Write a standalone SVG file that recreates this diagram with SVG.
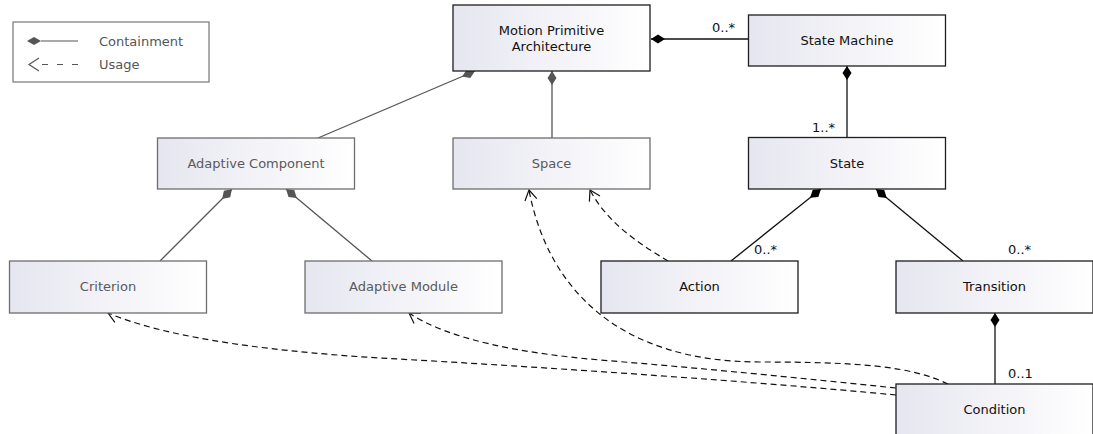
<svg xmlns="http://www.w3.org/2000/svg" width="1093" height="434" viewBox="0 0 1093 434">
<style>
  .node-b rect { fill: url(#grad); stroke: #1e1e1e; stroke-width: 1.3; }
  .node-g rect { fill: url(#grad); stroke: #6e6e6e; stroke-width: 1.3; }
  .node-b text { font-family: "DejaVu Sans", Verdana, sans-serif; font-size: 13px; fill: #111; text-anchor: middle; }
  .node-g text { font-family: "DejaVu Sans", Verdana, sans-serif; font-size: 13px; fill: #5a5a5a; text-anchor: middle; }
  .cb { fill: none; stroke: #111; stroke-width: 1.3; marker-start: url(#dia-b); }
  .cg { fill: none; stroke: #555; stroke-width: 1.3; marker-start: url(#dia-g); }
  .use { fill: none; stroke: #111; stroke-width: 1.2; stroke-dasharray: 6,4; marker-end: url(#open); }
  .lbl { font-family: "DejaVu Sans", Verdana, sans-serif; font-size: 13px; fill: #111; }
  .leg text { font-family: "DejaVu Sans", Verdana, sans-serif; font-size: 13px; fill: #555; }
</style>
<defs>
  <linearGradient id="grad" x1="0" y1="0" x2="1" y2="0">
    <stop offset="0" stop-color="#e6e6f0"/>
    <stop offset="1" stop-color="#ffffff"/>
  </linearGradient>
  <marker id="dia-b" markerUnits="userSpaceOnUse" markerWidth="16" markerHeight="12" refX="0" refY="5" orient="auto" viewBox="0 0 16 10" overflow="visible">
    <path d="M0,5 L7,0.5 L14,5 L7,9.5 Z" fill="#000"/>
  </marker>
  <marker id="dia-g" markerUnits="userSpaceOnUse" markerWidth="16" markerHeight="12" refX="0" refY="5" orient="auto" viewBox="0 0 16 10" overflow="visible">
    <path d="M0,5 L7,0.5 L14,5 L7,9.5 Z" fill="#555"/>
  </marker>
  <marker id="open" markerUnits="userSpaceOnUse" markerWidth="14" markerHeight="14" refX="12" refY="7" orient="auto" viewBox="0 0 14 14" overflow="visible">
    <path d="M2,1 L12,7 L2,13" fill="none" stroke="#111" stroke-width="1.2"/>
  </marker>
</defs>
<rect width="1093" height="434" fill="#fff"/>

<g id="legend" class="leg">
  <rect x="13" y="22" width="196" height="60" fill="#fff" stroke="#777" stroke-width="1.2"/>
  <path d="M27,41 L34,37 L41,41 L34,45 Z" fill="#555"/>
  <line x1="41" y1="41" x2="78" y2="41" stroke="#555" stroke-width="1.2"/>
  <text x="99" y="45.5">Containment</text>
  <path d="M39,58 L29,64.5 L39,71" fill="none" stroke="#555" stroke-width="1.2"/>
  <line x1="30" y1="64.5" x2="78" y2="64.5" stroke="#555" stroke-width="1.2" stroke-dasharray="0,12,6,9,6,9,6"/>
  <text x="99" y="69">Usage</text>
</g>

<g id="connectors">
  <path class="cb" d="M651,39 L748,39"/>
  <path class="cg" d="M475,71 L318,138"/>
  <path class="cg" d="M552,71 L552,138"/>
  <path class="cb" d="M847,66 L847,137"/>
  <path class="cg" d="M232,189 L160,261"/>
  <path class="cg" d="M286,189 L372,261"/>
  <path class="cb" d="M821,189 L731,261"/>
  <path class="cb" d="M876,189 L963,261"/>
  <path class="cb" d="M995,313 L995,384"/>
  <path class="use" d="M668,261 C 640,244 608,224 590,190"/>
  <path class="use" d="M948,384 C 910,366 860,362 760,362 C 620,362 548,290 529,190"/>
  <path class="use" d="M896,388 C 800,378 700,368 600,360 C 520,353 450,340 409,313"/>
  <path class="use" d="M896,395 C 760,382 560,368 380,358 C 250,350 160,335 108,313"/>
  <text class="lbl" x="712" y="32">0..*</text>
  <text class="lbl" x="812" y="132">1..*</text>
  <text class="lbl" x="754" y="254">0..*</text>
  <text class="lbl" x="1008" y="254">0..*</text>
  <text class="lbl" x="1008" y="378">0..1</text>
</g>

<g id="node-mpa" class="node-b">
  <rect x="453" y="5" width="197" height="66"/>
  <text x="551.5" y="34.5">Motion Primitive</text>
  <text x="551.5" y="50.5">Architecture</text>
</g>
<g id="node-state-machine" class="node-b">
  <rect x="748.5" y="15" width="197" height="51"/>
  <text x="847" y="45">State Machine</text>
</g>
<g id="node-state" class="node-b">
  <rect x="748.5" y="137.5" width="197" height="51.5"/>
  <text x="847" y="168">State</text>
</g>
<g id="node-adaptive-component" class="node-g">
  <rect x="157.5" y="138" width="197" height="51"/>
  <text x="256" y="168">Adaptive Component</text>
</g>
<g id="node-space" class="node-g">
  <rect x="453" y="138" width="197" height="51"/>
  <text x="551.5" y="168">Space</text>
</g>
<g id="node-criterion" class="node-g">
  <rect x="9.5" y="261" width="197" height="52"/>
  <text x="108" y="291">Criterion</text>
</g>
<g id="node-adaptive-module" class="node-g">
  <rect x="305" y="261" width="197" height="52"/>
  <text x="403.5" y="291">Adaptive Module</text>
</g>
<g id="node-action" class="node-b">
  <rect x="601" y="261" width="197" height="52"/>
  <text x="699.5" y="291">Action</text>
</g>
<g id="node-transition" class="node-b">
  <rect x="896" y="261" width="197" height="52"/>
  <text x="994.5" y="291">Transition</text>
</g>
<g id="node-condition" class="node-b">
  <rect x="896" y="384" width="197" height="60"/>
  <text x="994.5" y="414">Condition</text>
</g>
</svg>
